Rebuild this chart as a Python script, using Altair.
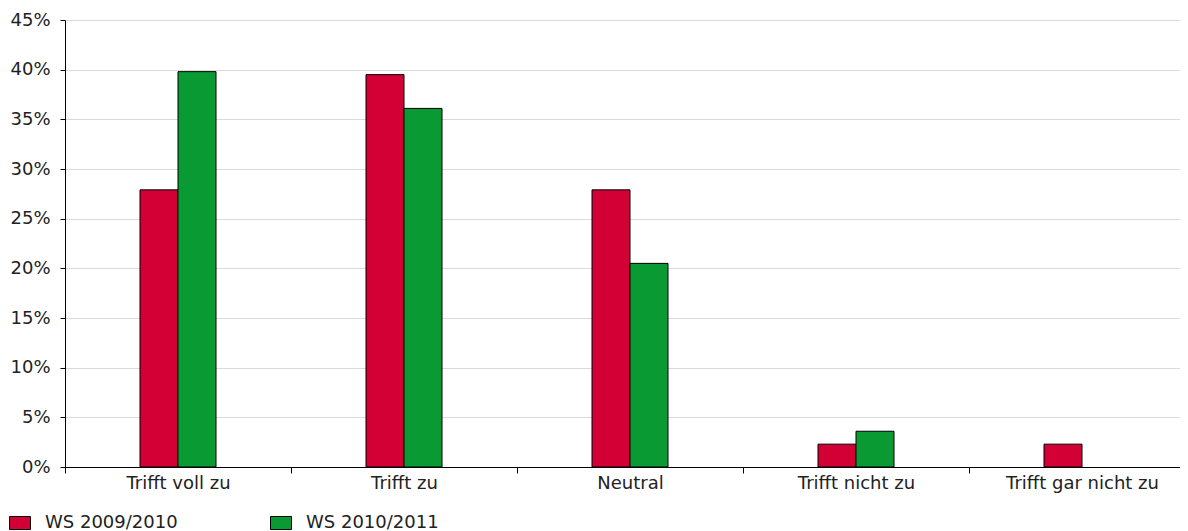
import altair as alt
import pandas as pd

categories = ["Trifft voll zu", "Trifft zu", "Neutral", "Trifft nicht zu", "Trifft gar nicht zu"]
series_names = ["WS 2009/2010", "WS 2010/2011"]
ws_2009 = [27.9, 39.5, 27.9, 2.3, 2.3]
ws_2010 = [39.8, 36.1, 20.5, 3.6, 0.0]
y_ticks = [0, 5, 10, 15, 20, 25, 30, 35, 40, 45]
colors = ["#D20034", "#0A9A33"]

rows = []
for i, c in enumerate(categories):
    rows.append({"cat": c, "series": series_names[0], "value": ws_2009[i]})
    rows.append({"cat": c, "series": series_names[1], "value": ws_2010[i]})
df = pd.DataFrame(rows)

FONT = "DejaVu Sans"
FS = 18

chart = (
    alt.Chart(df)
    .transform_filter("datum.value > 0")
    .mark_bar(stroke="#000000", strokeWidth=1)
    .encode(
        x=alt.X(
            "cat:N",
            sort=categories,
            title=None,
            scale=alt.Scale(paddingInner=0, paddingOuter=0, range=[0, 1130]),
            axis=alt.Axis(
                labelAngle=0,
                tickBand="extent",
                tickSize=6,
                tickColor="#000000",
                domainColor="#000000",
                labelPadding=1,
                labelFont=FONT,
                labelFontSize=FS,
                labelColor="#222222",
                grid=False,
            ),
        ),
        xOffset=alt.XOffset(
            "series:N",
            sort=series_names,
            scale=alt.Scale(paddingInner=0, paddingOuter=0, range=[75, 151]),
        ),
        y=alt.Y(
            "value:Q",
            title=None,
            scale=alt.Scale(domain=[0, 45], nice=False),
            axis=alt.Axis(
                values=y_ticks,
                labelExpr="datum.value + '%'",
                tickSize=5,
                tickColor="#000000",
                domainColor="#000000",
                labelPadding=10,
                labelFont=FONT,
                labelFontSize=FS,
                labelColor="#222222",
                gridColor="#dadada",
                gridWidth=1,
            ),
        ),
        fill=alt.Fill(
            "series:N",
            sort=series_names,
            scale=alt.Scale(domain=series_names, range=colors),
            legend=alt.Legend(
                title=None,
                orient="none",
                legendX=-56,
                legendY=492,
                direction="horizontal",
                columns=2,
                columnPadding=90,
                symbolType="M-1,-0.62H1V0.62H-1Z",
                symbolSize=441,
                symbolStrokeColor="#000000",
                symbolStrokeWidth=1,
                symbolOpacity=1,
                labelOffset=14,
                labelFont=FONT,
                labelFontSize=FS,
                labelColor="#222222",
                padding=0,
            ),
        ),
    )
    .properties(
        width=1115,
        height=447,
        autosize=alt.AutoSizeParams(type="none"),
        padding={"left": 57, "top": 12, "right": 0, "bottom": 70},
    )
    .configure_view(stroke=None)
)

chart.save("out.html", embed_options={"renderer": "svg", "actions": False})
